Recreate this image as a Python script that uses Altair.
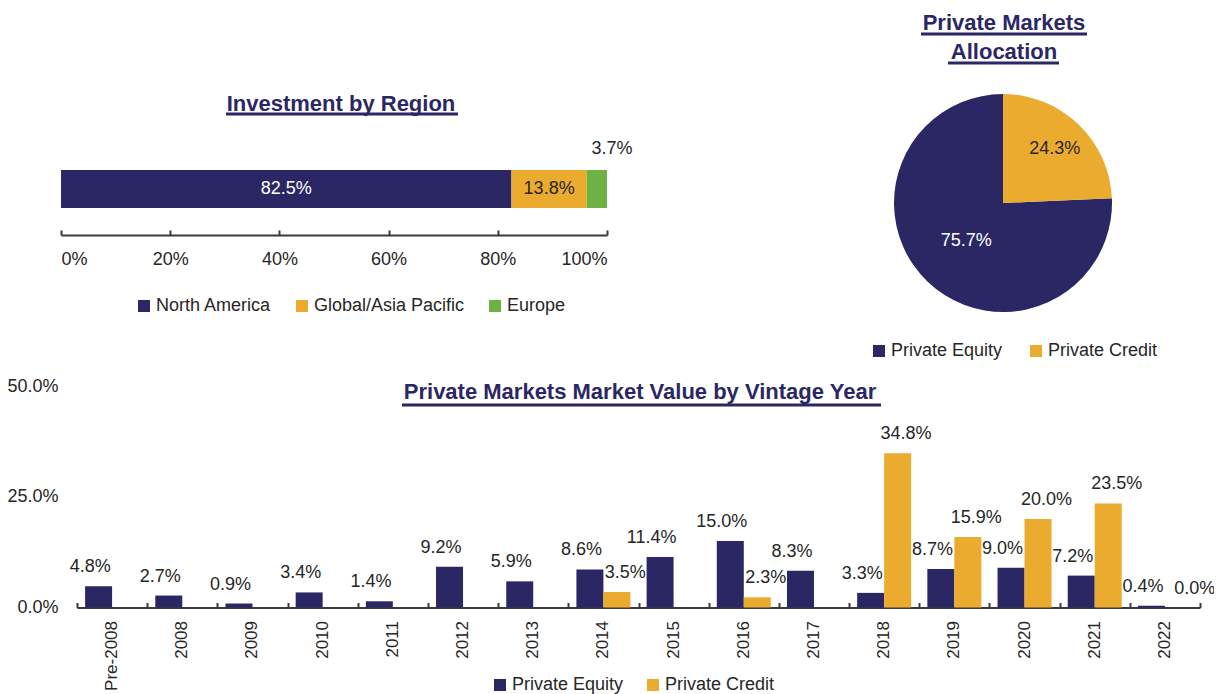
import json
import altair as alt
import pandas as pd

FONT = "Liberation Sans, Arial, Helvetica, sans-serif"
NAVY = "#2B2765"
GOLD = "#EBAB2E"
GREEN = "#6CB244"
TXT = "#262626"
AX = "#3A3A3A"

# ---------------- data ----------------
regions = ["North America", "Global/Asia Pacific", "Europe"]
region_values = [82.5, 13.8, 3.7]

pie_categories = ["Private Equity", "Private Credit"]
pie_values = [75.7, 24.3]

vintage_years = ["Pre-2008", "2008", "2009", "2010", "2011", "2012", "2013", "2014",
                 "2015", "2016", "2017", "2018", "2019", "2020", "2021", "2022"]
pe_values = [4.8, 2.7, 0.9, 3.4, 1.4, 9.2, 5.9, 8.6, 11.4, 15.0, 8.3, 3.3, 8.7, 9.0, 7.2, 0.4]
credit_values = [None, None, None, None, None, None, None, 3.5,
                 None, 2.3, None, 34.8, 15.9, 20.0, 23.5, 0.0]
series = ["Private Equity", "Private Credit"]

region_df = pd.DataFrame({"region": regions, "value": region_values, "row": "Region"})
pie_df = pd.DataFrame({"category": pie_categories, "value": pie_values})
rows = []
for yr, pe, cr in zip(vintage_years, pe_values, credit_values):
    rows.append({"year": yr, "series": "Private Equity", "value": pe})
    if cr is not None:
        rows.append({"year": yr, "series": "Private Credit", "value": cr})
vint_df = pd.DataFrame(rows)

W, H = 1206, 686
one = alt.Data(values=[{}])


def title_text(txt, x, y):
    return alt.Chart(one).mark_text(
        text=txt, font=FONT, fontSize=22, fontWeight="bold", color=NAVY,
        align="center", baseline="alphabetic"
    ).encode(x=alt.value(x), y=alt.value(y))


def underline(x1, x2, y):
    return alt.Chart(one).mark_rule(color=NAVY, strokeWidth=3).encode(
        x=alt.value(x1), x2=alt.value(x2), y=alt.value(y))


def legend(x, y, pad):
    return alt.Legend(orient="none", legendX=x, legendY=y, direction="horizontal",
                      title=None, symbolType="square", symbolSize=144,
                      symbolStrokeWidth=0, labelFont=FONT, labelFontSize=18,
                      labelColor=TXT, labelOffset=3, columnPadding=pad, padding=0)


# ---------------- Investment by Region ----------------
A_AXIS = 227
xA = alt.Scale(domain=[0, 100], range=[53, 599], nice=False, zero=False)
yA = alt.Scale(domain=["Region"], range=[135, 227], paddingInner=0, paddingOuter=0)
colA = alt.Scale(domain=regions, range=[NAVY, GOLD, GREEN])

baseA = alt.Chart(region_df).transform_calculate(
    ord=f"indexof({json.dumps(regions)}, datum.region)"
).transform_stack(
    stack="value", groupby=["row"], as_=["x0", "x1"],
    sort=[alt.SortField("ord", order="ascending")]
).transform_calculate(
    mid="(datum.x0 + datum.x1) / 2",
    label="format(datum.value, '.1f') + '%'"
)

barsA = baseA.mark_bar(size=38).encode(
    x=alt.X("x0:Q", scale=xA, axis=alt.Axis(
        orient="bottom", offset=A_AXIS - H, values=[0, 20, 40, 60, 80, 100],
        labelExpr="datum.value + '%'", ticks=False, domain=True, domainColor=AX,
        domainWidth=2, grid=False, labelFont=FONT, labelFontSize=18, labelColor=TXT,
        labelPadding=15, title=None)),
    x2="x1:Q",
    y=alt.Y("row:N", scale=yA, axis=None),
    color=alt.Color("region:N", scale=colA, legend=legend(127, 289, 21)),
)
inA = baseA.transform_filter("datum.region != 'Europe'").mark_text(
    font=FONT, fontSize=18).encode(
    x=alt.X("mid:Q", scale=xA, axis=None),
    y=alt.Y("row:N", scale=yA, axis=None),
    text="label:N",
    color=alt.condition("datum.region == 'North America'", alt.value("white"), alt.value(TXT)),
)
outA = baseA.transform_filter("datum.region == 'Europe'").mark_text(
    font=FONT, fontSize=18, color=TXT, dx=15, dy=-40).encode(
    x=alt.X("mid:Q", scale=xA, axis=None),
    y=alt.Y("row:N", scale=yA, axis=None),
    text="label:N",
)
ticksA = alt.Chart(region_df).mark_point(opacity=0).encode(
    x=alt.X("value:Q", scale=xA, axis=alt.Axis(
        orient="top", offset=-A_AXIS, values=[0, 20, 40, 60, 80, 100],
        labels=False, domain=False, ticks=True, tickSize=5, tickWidth=2,
        tickColor=AX, grid=False, title=None)))

# ---------------- Pie ----------------
CX, CY, R = 995, 195, 109
basePie = alt.Chart(pie_df).transform_calculate(label="format(datum.value, '.1f') + '%'")
theta = alt.Theta("value:Q", stack=True)
order = alt.Order("category:N", sort="ascending")
arc = basePie.mark_arc(outerRadius=R).encode(
    theta=theta, order=order, x=alt.value(CX), y=alt.value(CY),
    color=alt.Color("category:N", scale=alt.Scale(domain=pie_categories, range=[NAVY, GOLD]),
                    legend=legend(862, 334, 24)),
)
pieTxtC = basePie.mark_text(radius=75, font=FONT, fontSize=18, color=TXT).encode(
    theta=theta, order=order, x=alt.value(CX), y=alt.value(CY), text="label:N",
    opacity=alt.condition("datum.category == 'Private Credit'", alt.value(1), alt.value(0)),
)
pieTxtE = basePie.mark_text(radius=53, font=FONT, fontSize=18, color="white").encode(
    theta=theta, order=order, x=alt.value(CX), y=alt.value(CY), text="label:N",
    opacity=alt.condition("datum.category == 'Private Equity'", alt.value(1), alt.value(0)),
)

# ---------------- Vintage year bars ----------------
C_AXIS = 599.5
xC = alt.Scale(domain=vintage_years, range=[69, 1192], paddingInner=0, paddingOuter=0)
xoC = alt.Scale(domain=series, paddingInner=0, paddingOuter=0.3)
yC = alt.Scale(domain=[0, 50], range=[C_AXIS, 378], nice=False, zero=True)
colC = alt.Scale(domain=series, range=[NAVY, GOLD])

baseC = alt.Chart(vint_df).transform_calculate(label="format(datum.value, '.1f') + '%'")
barsC = baseC.mark_bar().encode(
    x=alt.X("year:N", sort=vintage_years, scale=xC, axis=alt.Axis(
        orient="bottom", offset=C_AXIS - H, labelAngle=270, labelPadding=13,
        ticks=False, domain=True, domainColor=AX, domainWidth=2, grid=False,
        labelFont=FONT, labelFontSize=17, labelColor=TXT, title=None)),
    xOffset=alt.XOffset("series:N", sort=series, scale=xoC),
    y=alt.Y("value:Q", scale=yC, axis=alt.Axis(
        orient="left", offset=-69, values=[0, 25, 50],
        labelExpr="format(datum.value, '.1f') + '%'", ticks=False, domain=False,
        grid=False, labelFont=FONT, labelFontSize=18, labelColor=TXT,
        labelPadding=19, title=None)),
    color=alt.Color("series:N", scale=colC, legend=legend(483, 668, 20)),
)
enc_txt = dict(
    x=alt.X("year:N", sort=vintage_years, scale=xC, axis=None),
    xOffset=alt.XOffset("series:N", sort=series, scale=xoC),
    y=alt.Y("value:Q", scale=yC, axis=None),
    text="label:N",
)
txtC = baseC.transform_filter("!(datum.series == 'Private Credit' && datum.value == 0)").mark_text(
    font=FONT, fontSize=18, color=TXT, dy=-19).encode(**enc_txt)
txtC0 = baseC.transform_filter("datum.series == 'Private Credit' && datum.value == 0").mark_text(
    font=FONT, fontSize=18, color=TXT, dy=-19, dx=8).encode(**enc_txt)
ticksC = alt.Chart(vint_df).mark_point(opacity=0).encode(
    x=alt.X("year:N", sort=vintage_years, scale=xC, axis=alt.Axis(
        orient="top", offset=-C_AXIS, tickBand="extent", labels=False, domain=False,
        ticks=True, tickSize=5, tickWidth=2, tickColor=AX, grid=False, title=None)))

# ---------------- titles ----------------
titles = [
    title_text("Investment by Region", 333, 103), underline(218, 450, 106),
    title_text("Private Markets", 996, 22), underline(913, 1079, 26),
    title_text("Allocation", 996, 51), underline(940, 1051, 55),
    title_text("Private Markets Market Value by Vintage Year", 632, 391), underline(394, 873, 397),
]

chart = alt.layer(
    barsA, inA, outA, ticksA, arc, pieTxtC, pieTxtE, barsC, txtC, txtC0, ticksC, *titles
).resolve_scale(
    x="independent", y="independent", color="independent", theta="independent",
    xOffset="independent", opacity="independent"
).properties(
    width=W, height=H, padding=0, autosize=alt.AutoSizeParams(type="none")
).configure_view(stroke=None)

chart.save("out.html", embed_options={"renderer": "svg", "actions": False})
